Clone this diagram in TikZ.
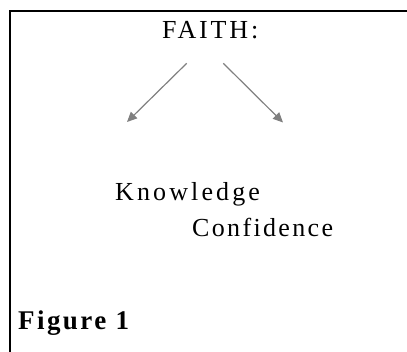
\documentclass[tikz,border=0pt]{standalone}
\usepackage{fontspec}
\setmainfont{Liberation Serif}
\usetikzlibrary{arrows.meta}
\definecolor{arrowgray}{HTML}{808080}

\begin{document}
\begin{tikzpicture}[x=1pt,y=1pt,
  word/.style={anchor=base west,inner sep=0pt,font=\fontsize{26}{26}\selectfont},
  link/.style={arrowgray,line width=1.2pt,-{Triangle[length=10pt,width=9pt]}}]
 \useasboundingbox (0,0) rectangle (407,352);
 \draw[line width=2pt] (10,-2) -- (10,340.5) -- (410,340.5);
 \node[word] (faith) at (162,313.5) {\addfontfeatures{LetterSpace=11}FAITH:};
 \node[word] (know) at (115,151.5) {\addfontfeatures{LetterSpace=12}Knowledge};
 \node[word] (conf) at (192,115) {\addfontfeatures{LetterSpace=9}Confidence};
 \node[word,font=\fontsize{27}{27}\selectfont\bfseries] (fig) at (18,22)
    {\addfontfeatures{LetterSpace=9}Figure 1};
 \coordinate (know start) at (186.7,288.7);
 \coordinate (know tip) at (127,230);
 \coordinate (conf start) at (223.3,288.7);
 \coordinate (conf tip) at (283,229.5);
 \foreach \s/\t in {know start/know tip,conf start/conf tip}
  \draw[link] (\s) -- (\t);
\end{tikzpicture}
\end{document}
